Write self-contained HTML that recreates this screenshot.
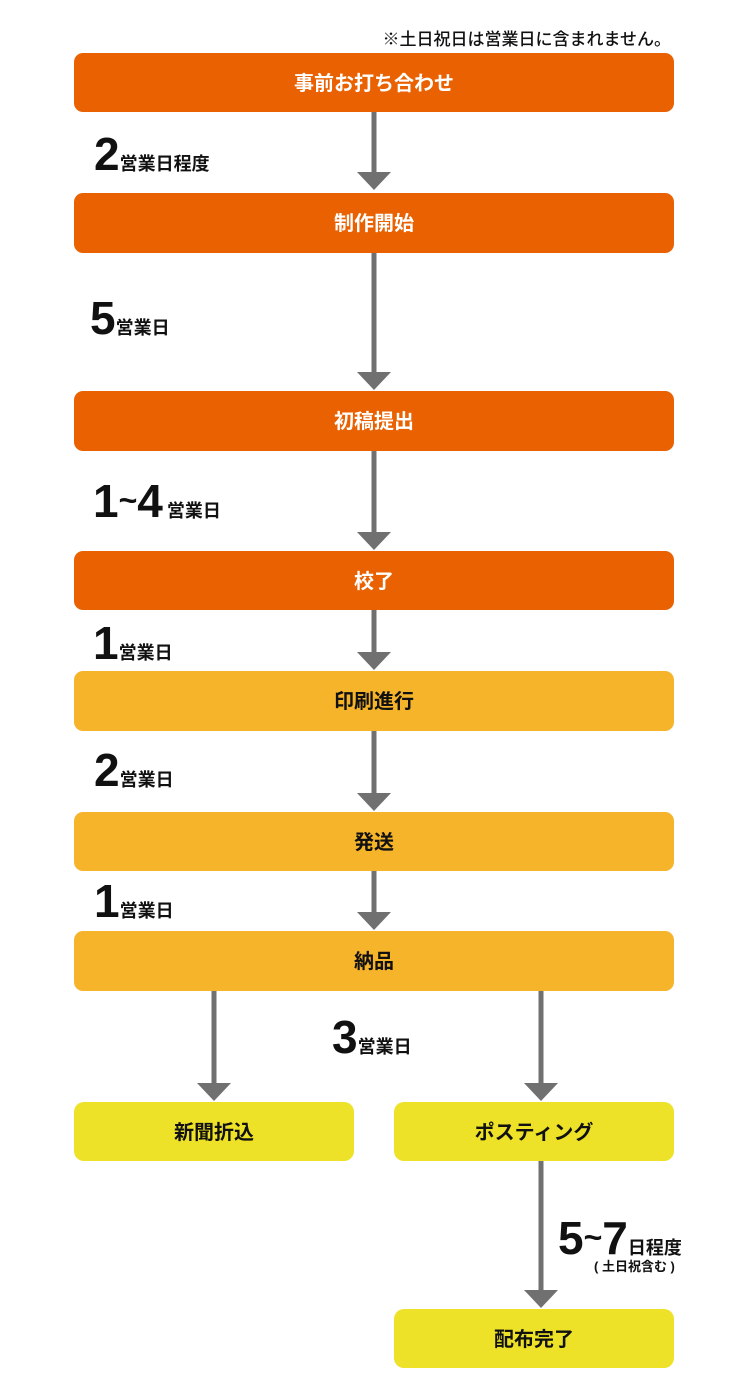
<!DOCTYPE html>
<html><head><meta charset="utf-8"><style>
html,body{margin:0;padding:0;background:#fff;width:748px;height:1400px;overflow:hidden}
svg{display:block}
text{font-family:"Liberation Sans","Noto Sans CJK JP",sans-serif;font-weight:bold}
</style></head><body>
<svg width="748" height="1400" viewBox="0 0 748 1400" xmlns="http://www.w3.org/2000/svg">
<text x="671" y="45" font-size="17" text-anchor="end" fill="#111" style="font-weight:500">※土日祝日は営業日に含まれません。</text>
<g fill="#707070">
<rect x="371.5" y="112" width="5" height="62"/><polygon points="357,172 391,172 374,190"/>
<rect x="371.5" y="253" width="5" height="120"/><polygon points="357,372 391,372 374,390"/>
<rect x="371.5" y="451" width="5" height="82"/><polygon points="357,532 391,532 374,550"/>
<rect x="371.5" y="610" width="5" height="43"/><polygon points="357,652 391,652 374,670"/>
<rect x="371.5" y="731" width="5" height="63"/><polygon points="357,793 391,793 374,811"/>
<rect x="371.5" y="871" width="5" height="42"/><polygon points="357,912 391,912 374,930"/>
<rect x="211.5" y="991" width="5" height="93"/><polygon points="197,1083 231,1083 214,1101"/>
<rect x="538.5" y="991" width="5" height="93"/><polygon points="524,1083 558,1083 541,1101"/>
<rect x="538.5" y="1161" width="5" height="130"/><polygon points="524,1290 558,1290 541,1308"/>
</g>
<g>
<rect x="74" y="53" width="600" height="59" rx="9" fill="#e96100"/>
<rect x="74" y="193" width="600" height="60" rx="9" fill="#e96100"/>
<rect x="74" y="391" width="600" height="60" rx="9" fill="#e96100"/>
<rect x="74" y="551" width="600" height="59" rx="9" fill="#e96100"/>
<rect x="74" y="671" width="600" height="60" rx="9" fill="#f6b42a"/>
<rect x="74" y="812" width="600" height="59" rx="9" fill="#f6b42a"/>
<rect x="74" y="931" width="600" height="60" rx="9" fill="#f6b42a"/>
<rect x="74" y="1102" width="280" height="59" rx="10" fill="#ede227"/>
<rect x="394" y="1102" width="280" height="59" rx="10" fill="#ede227"/>
<rect x="394" y="1309" width="280" height="59" rx="10" fill="#ede227"/>
</g>
<g font-size="20" text-anchor="middle">
<text x="374" y="90" fill="#fff">事前お打ち合わせ</text>
<text x="374" y="230" fill="#fff">制作開始</text>
<text x="374" y="428" fill="#fff">初稿提出</text>
<text x="374" y="588" fill="#fff">校了</text>
<text x="374" y="708" fill="#111">印刷進行</text>
<text x="374" y="849" fill="#111">発送</text>
<text x="374" y="968" fill="#111">納品</text>
<text x="214" y="1139" fill="#111">新聞折込</text>
<text x="534" y="1139" fill="#111">ポスティング</text>
<text x="534" y="1346" fill="#111">配布完了</text>
</g>
<g fill="#111">
<text x="94" y="170" font-size="46">2<tspan font-size="18">営業日程度</tspan></text>
<text x="90" y="334" font-size="46">5<tspan font-size="18">営業日</tspan></text>
<text x="93" y="517" font-size="46">1<tspan font-size="32" dy="-6">~</tspan><tspan font-size="46" dy="6">4</tspan><tspan font-size="18" dx="4">営業日</tspan></text>
<text x="93" y="659" font-size="46">1<tspan font-size="18">営業日</tspan></text>
<text x="94" y="786" font-size="46">2<tspan font-size="18">営業日</tspan></text>
<text x="94" y="917" font-size="46">1<tspan font-size="18">営業日</tspan></text>
<text x="332" y="1053" font-size="46">3<tspan font-size="18">営業日</tspan></text>
<text x="558" y="1254" font-size="46">5<tspan font-size="32" dy="-6">~</tspan><tspan font-size="46" dy="6">7</tspan><tspan font-size="18">日程度</tspan></text>
<text x="594" y="1271" font-size="13">( 土日祝含む )</text>
</g>
</svg>
</body></html>
